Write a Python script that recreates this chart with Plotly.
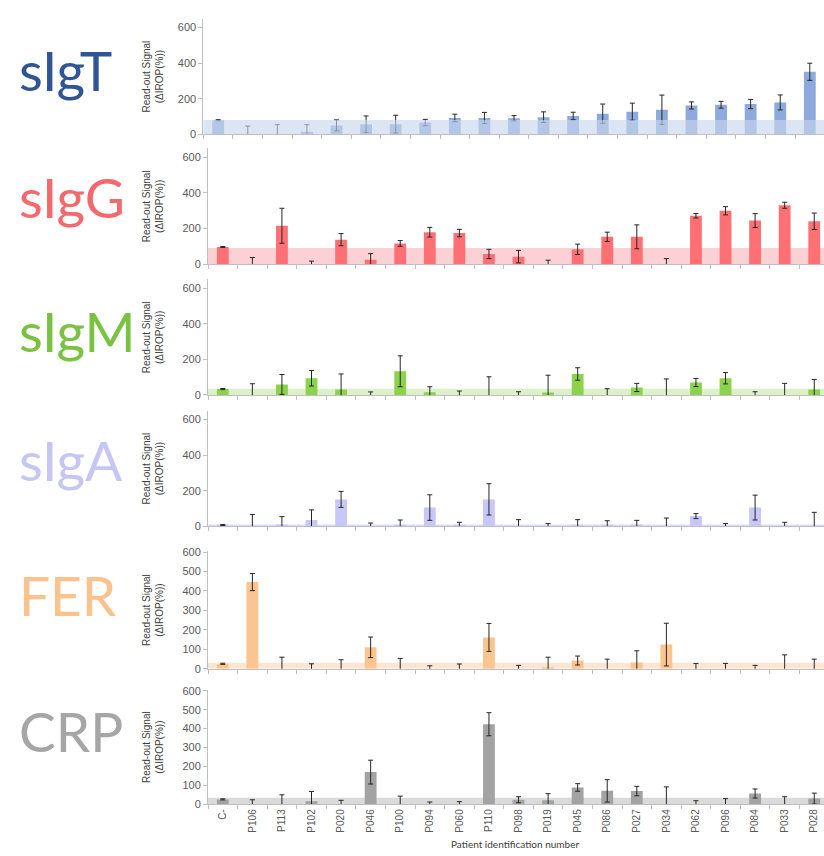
import plotly.graph_objects as go

W, H = 824, 856

patients = ["C-", "P106", "P113", "P102", "P020", "P046", "P100", "P094", "P060", "P110",
            "P098", "P019", "P045", "P086", "P027", "P034", "P062", "P096", "P084", "P033", "P028"]

sigt_val = [79, 0, 0, 15, 50, 57, 57, 66, 92, 92, 90, 96, 103, 116, 127, 138, 162, 166, 170, 179, 351]
sigt_err = [3, 46, 54, 39, 31, 46, 50, 18, 21, 31, 15, 30, 21, 54, 48, 82, 20, 19, 26, 42, 48]

sigg_val = [96, 0, 215, 0, 137, 24, 116, 179, 174, 57, 42, 0, 83, 153, 153, 0, 271, 299, 244, 330, 240]
sigg_err = [3, 37, 98, 17, 34, 35, 16, 27, 21, 26, 35, 22, 29, 26, 67, 31, 13, 23, 39, 17, 46]

sigm_val = [33, 0, 59, 94, 30, 0, 133, 15, 0, 0, 0, 13, 118, 0, 42, 0, 70, 94, 0, 0, 31]
sigm_err = [3, 63, 56, 44, 88, 17, 87, 31, 22, 102, 18, 98, 35, 35, 23, 90, 23, 32, 18, 65, 56]

siga_val = [7, 0, 9, 35, 151, 0, 5, 105, 5, 151, 0, 0, 5, 4, 9, 0, 57, 0, 105, 0, 0]
siga_err = [3, 66, 45, 57, 45, 18, 30, 72, 17, 88, 37, 15, 32, 27, 24, 46, 14, 15, 70, 22, 78]

fer_val = [25, 446, 0, 0, 0, 110, 0, 0, 0, 161, 0, 5, 42, 0, 32, 124, 0, 0, 0, 0, 0]
fer_err = [3, 44, 59, 25, 46, 53, 53, 15, 24, 72, 17, 54, 23, 49, 60, 110, 27, 27, 17, 71, 49]

crp_val = [26, 0, 0, 16, 0, 170, 0, 0, 0, 423, 24, 21, 89, 71, 70, 0, 0, 0, 57, 0, 30]
crp_err = [3, 24, 50, 52, 21, 63, 43, 12, 14, 61, 16, 35, 20, 59, 25, 92, 19, 30, 24, 40, 29]

markers = ["sIgT", "sIgG", "sIgM", "sIgA", "FER", "CRP"]
thresholds = [80, 90, 35, 10, 30, 34]
y_ticks = [[0, 200, 400, 600]] * 4 + [[0, 100, 200, 300, 400, 500, 600]] * 2
y_tops = [650, 650, 650, 650, 605, 605]

values = [sigt_val, sigg_val, sigm_val, siga_val, fer_val, crp_val]
errors = [sigt_err, sigg_err, sigm_err, siga_err, fer_err, crp_err]

label_colors = ["#2F5597", "#F4696D", "#7CC242", "#C6C6F5", "#FBC28D", "#A6A6A6"]
bar_colors = ["#8EA9DB", "#FF7075", "#8DD24C", "#C8C8F8", "#FCC590", "#A3A3A3"]
band_colors = ["rgba(201,214,236,0.64)", "rgba(250,190,195,0.7)", "rgba(205,235,180,0.7)",
               "rgba(210,210,248,0.8)", "rgba(252,220,190,0.7)", "rgba(205,205,205,0.75)"]
band_layers = ["above", "below", "below", "below", "below", "below"]

# pixel geometry of each panel: (baseline_px, top_px, x_start_px)
panels_px = [(131, 13.7, 203.4), (262.5, 145, 208), (395, 278, 208),
             (528, 411, 208), (672.3, 553.3, 208), (809.7, 693.7, 208)]
label_y_px = [66, 194, 330, 461, 598, 735]

fig = go.Figure()
layout = dict(width=W, height=H, margin=dict(l=0, r=0, t=0, b=0),
              paper_bgcolor="white", plot_bgcolor="rgba(0,0,0,0)",
              showlegend=False, bargap=0.6,
              font=dict(family="Liberation Sans, Arial", color="#595959"))
shapes = []
annotations = []

for i in range(6):
    k = "" if i == 0 else str(i + 1)
    base, top, x0 = panels_px[i]
    fig.add_trace(go.Bar(
        x=patients, y=values[i], xaxis="x" + k, yaxis="y" + k,
        marker=dict(color=bar_colors[i], line=dict(width=0)),
        width=0.4,
        error_y=dict(type="data", array=errors[i], visible=True, color="#262626",
                     thickness=1, width=2.5),
        hoverinfo="x+y"))
    xr = [-0.5, 20.48] if i == 0 else [-0.5, 20.33]
    layout["xaxis" + k] = dict(
        domain=[x0 / W, 1], anchor="y" + k, type="category",
        categoryorder="array", categoryarray=patients, range=xr,
        showline=True, linecolor="#BFBFBF", linewidth=1,
        ticks="outside", tickson="boundaries", ticklen=4, tickcolor="#BFBFBF",
        showticklabels=(i == 5), tickangle=-90,
        tickfont=dict(size=10, color="#595959", family="Liberation Sans, Arial"),
        showgrid=False, zeroline=False, fixedrange=True)
    layout["yaxis" + k] = dict(
        domain=[1 - base / H, 1 - top / H], anchor="x" + k,
        range=[0, y_tops[i]], tickvals=y_ticks[i],
        ticktext=[str(v) for v in y_ticks[i]],
        showline=True, linecolor="#BFBFBF", linewidth=1,
        ticks="outside", ticklen=4, tickcolor="#BFBFBF",
        tickfont=dict(size=11, color="#595959", family="Liberation Sans, Arial"),
        showgrid=False, zeroline=False, fixedrange=True)
    shapes.append(dict(type="rect", xref="x" + k + " domain", yref="y" + k,
                       x0=0, x1=1, y0=0, y1=thresholds[i],
                       fillcolor=band_colors[i], line=dict(width=0),
                       layer=band_layers[i]))
    annotations.append(dict(
        text=markers[i], xref="paper", yref="paper",
        x=17 / W, y=1 - label_y_px[i] / H, xanchor="left", yanchor="middle",
        showarrow=False,
        font=dict(size=55, color=label_colors[i], family="Lato, Open Sans, sans-serif")))
    annotations.append(dict(
        text="Read-out Signal<br>(ΔIROP(%))", xref="paper", yref="paper",
        x=153 / W, y=1 - (base + top) / 2 / H, textangle=-90,
        xanchor="center", yanchor="middle", showarrow=False,
        font=dict(size=10, color="#404040", family="Liberation Sans, Arial")))

annotations.append(dict(
    text="Patient identification number", xref="paper", yref="paper",
    x=515 / W, y=1 - 850 / H, xanchor="center", yanchor="middle", showarrow=False,
    font=dict(size=10, color="#404040", family="Lato, Open Sans, sans-serif")))

layout["shapes"] = shapes
layout["annotations"] = annotations
fig.update_layout(**layout)
fig.write_html("out.html", config={"displayModeBar": False},
               post_script="document.body.style.margin='0';document.body.style.overflow='hidden';")
